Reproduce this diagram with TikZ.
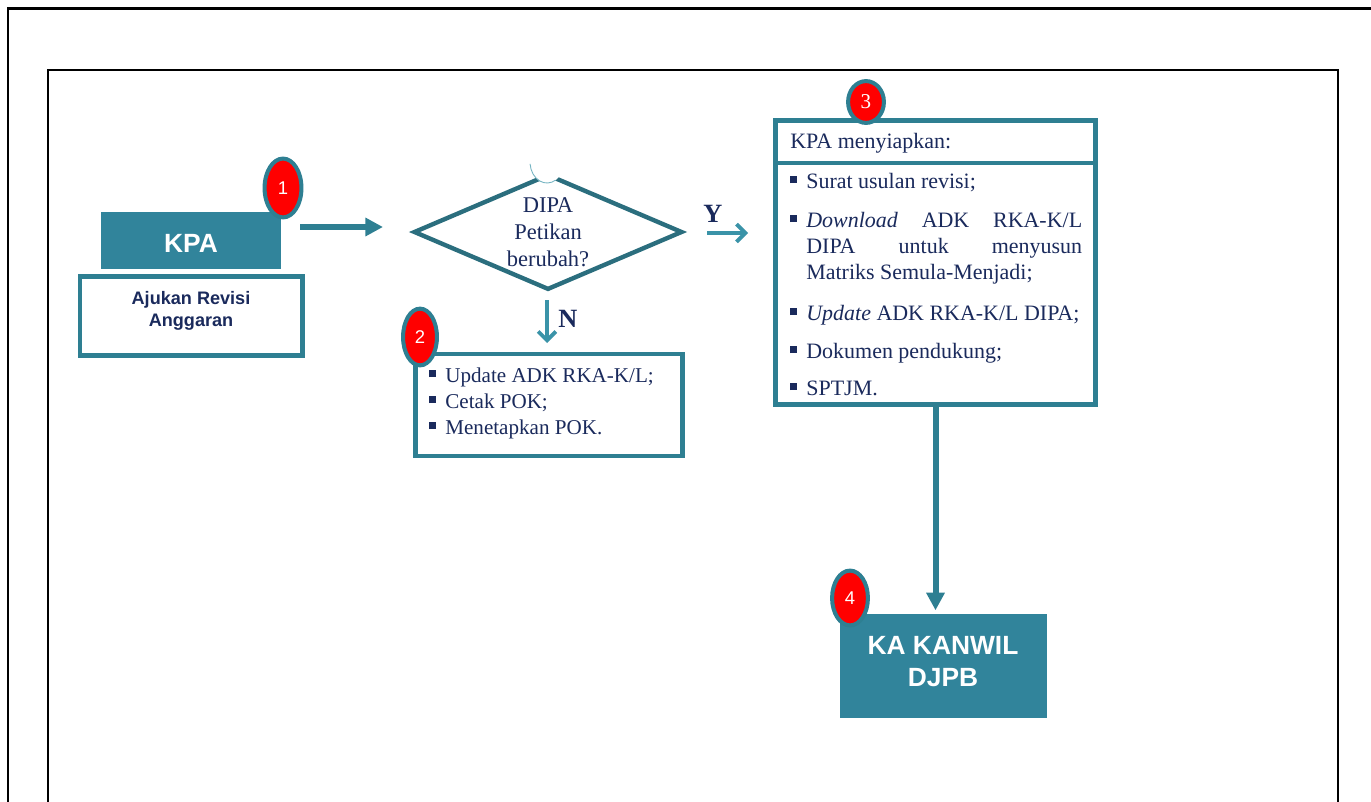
\documentclass[tikz,border=0pt]{standalone}
\usepackage{fontspec}
\setmainfont{Liberation Serif}
\setsansfont{Liberation Sans}
\usetikzlibrary{shapes.geometric,arrows.meta}

\definecolor{tealfill}{HTML}{31849B}
\definecolor{tealline}{HTML}{2E7F92}
\definecolor{tealdark}{HTML}{2B6E7E}
\definecolor{tealarrow}{HTML}{3A93A8}
\definecolor{navytext}{HTML}{1A2A5C}
\definecolor{badgered}{HTML}{FF0000}

\newcommand\bul{\llap{\rule[2.8pt]{3.9pt}{3.9pt}\hspace{5.2pt}}}

\tikzset{
  fillbox/.style={rectangle, fill=tealfill, text=white, inner sep=0,
    font=\sffamily\bfseries\fontsize{15}{18.1}\selectfont},
  linebox/.style={rectangle, draw=tealline, line width=2.5pt, fill=white, inner sep=0},
  badge/.style={ellipse, fill=badgered, draw=tealline, line width=2.3pt, inner sep=0,
    text=white, font=\sffamily\fontsize{10.5}{12}\selectfont},
  itemtext/.style={anchor=base west, inner sep=0, text=navytext,
    font=\fontsize{12.5}{15}\selectfont},
  flowarrow/.style={draw=tealline, line width=3.4pt, -{Triangle[length=10pt,width=10pt]}},
  yesno/.style={draw=tealarrow, line width=2.2pt, -{Straight Barb[length=5pt,width=10pt]}},
}

\begin{document}
\begin{tikzpicture}[x=0.02cm,y=-0.02cm]
\useasboundingbox (0,0) rectangle (1371,801);
\clip (0,0) rectangle (1371,801);

% frames
\draw[line width=1.7pt] (8,820) -- (8,8.5) -- (1390,8.5);
\draw[line width=1.5pt] (48,820) -- (48,70) -- (1338,70) -- (1338,820);

% step 1
\node[fillbox, minimum width=102pt, minimum height=32.3pt] (kpa) at (191,240.5) {};
\node[anchor=base, inner sep=0, text=white, font=\sffamily\bfseries\fontsize{15}{18}\selectfont] (kpatext) at (191,252) {KPA};
\node[linebox, line width=2.8pt, minimum width=126.4pt, minimum height=44.8pt] (ajukan) at (191,316) {};
\node[inner sep=0, align=center, text=navytext, font=\sffamily\bfseries\fontsize{10.3}{12.5}\selectfont] (ajukantext) at (191,311) {Ajukan Revisi\\Anggaran};
\node[badge, minimum width=21pt, minimum height=33.5pt] (b1) at (283,188) {1};

% decision
\node[diamond, draw=tealdark, line width=2.5pt, minimum width=153pt, minimum height=65.8pt, inner sep=0] (dipa) at (548,232) {};
\fill[white] (547,162) ellipse (17 and 21);
\draw[tealarrow!70, line width=0.5pt] (547,162) ++(175:17 and 21) arc[start angle=175, end angle=60, x radius=17, y radius=21];
\node[inner sep=0, align=center, text=navytext, font=\fontsize{12.8}{15.3}\selectfont] (dipatext) at (548,232) {DIPA\\Petikan\\berubah?};

\coordinate (kpaout) at (300,227);
\coordinate (dipain) at (383,227);
\draw[flowarrow] (kpaout) -- (dipain);

% Y branch
\coordinate (yout) at (707,233);
\coordinate (yin) at (748,233);
\draw[yesno] (yout) -- (yin);
\node[anchor=base, inner sep=0, text=navytext, font=\bfseries\fontsize{15}{18}\selectfont] (ylabel) at (713,222) {Y};

% N branch
\coordinate (nout) at (547,300);
\coordinate (nin) at (547,343);
\draw[yesno] (nout) -- (nin);
\node[anchor=base, inner sep=0, text=navytext, font=\bfseries\fontsize{15}{18}\selectfont] (nlabel) at (568,327) {N};

% step 2
\node[linebox, minimum width=152pt, minimum height=57.8pt] (pok) at (549,405) {};
\node[itemtext, font=\fontsize{12}{14.5}\selectfont] (pok1) at (445,382) {\bul Update ADK RKA-K/L;};
\node[itemtext, font=\fontsize{12}{14.5}\selectfont] (pok2) at (445,408) {\bul Cetak POK;};
\node[itemtext, font=\fontsize{12}{14.5}\selectfont] (pok3) at (445,434) {\bul Menetapkan POK.};
\node[badge, minimum width=19.3pt, minimum height=32.3pt] (b2) at (420,337) {2};

% step 3
\node[linebox, minimum width=182pt, minimum height=161.6pt] (siap) at (935.5,262.5) {};
\coordinate (sep) at (0,163);
\draw[tealline, line width=2.5pt] (siap.west |- sep) -- (siap.east |- sep);
\node[itemtext] (siaphead) at (790,148) {KPA menyiapkan:};
\node[itemtext] (siap1) at (806,188) {\bul Surat usulan revisi;};
\node[itemtext, text width=157pt, align=justify] (siap2) at (806,227)
  {\bul\textit{Download} ADK RKA-K/L\linebreak DIPA untuk menyusun\linebreak Matriks Semula-Menjadi;};
\node[itemtext] (siap3) at (806,320) {\bul\textit{Update} ADK RKA-K/L DIPA;};
\node[itemtext] (siap4) at (806,358) {\bul Dokumen pendukung;};
\node[itemtext] (siap5) at (806,395) {\bul SPTJM.};
\node[badge, minimum width=20.4pt, minimum height=23.8pt, font=\rmfamily\fontsize{12}{14}\selectfont] (b3) at (866,102) {3};

% step 4
\node[fillbox, minimum width=117.4pt, minimum height=59pt] (kanwil) at (943.5,666) {};
\node[inner sep=0, align=center, text=white, font=\sffamily\bfseries\fontsize{15}{18.1}\selectfont] (kanwiltext) at (943,661.5) {KA KANWIL\\DJPB};
\node[badge, minimum width=20.4pt, minimum height=31.2pt] (b4) at (850,598) {4};

\draw[flowarrow, shorten >=2pt] (siap.south) -- (siap.south |- kanwil.north);
\end{tikzpicture}
\end{document}
